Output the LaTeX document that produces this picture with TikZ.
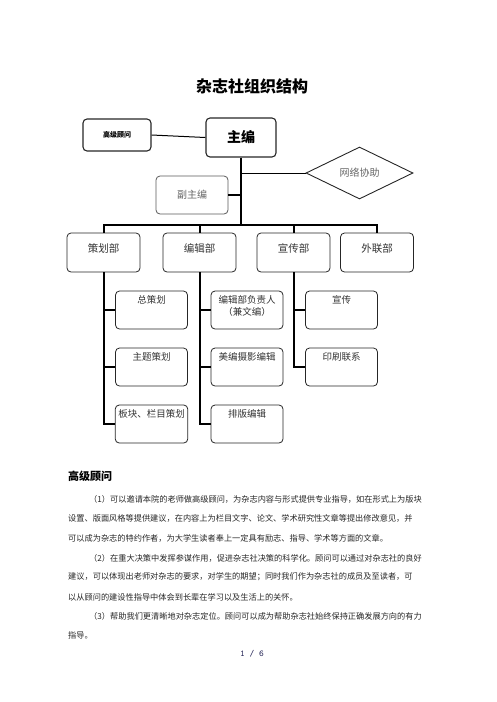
\documentclass[tikz,border=0pt]{standalone}
\usepackage{fontspec}
\setmainfont{Noto Sans CJK SC}
\usetikzlibrary{positioning,shapes.geometric}
\XeTeXlinebreaklocale "zh"
\XeTeXlinebreakskip=0pt plus 4pt minus 0.3pt
\definecolor{pagenum}{RGB}{35,35,85}
\newcommand{\jline}[2]{\makebox[#1][s]{#2}}
\tikzset{
box/.style={draw=black!85, rounded corners=4pt, line width=0.8pt, text=black!80, inner sep=3pt}, % every rounded box
trunk/.style={line width=2pt, line join=miter, black}, % the thick organisation lines
link/.style={line width=1pt, black}, % the thinner lines
para/.style={anchor=west, inner sep=0pt, text=black!85, font=\fontsize{8.2}{10}\selectfont}, % one line of the text below
}
\begin{document}
\begin{tikzpicture}[x=1pt,y=-1pt,node distance=57pt,on grid,
dept/.style={box, minimum width=73pt, font=\fontsize{10.5}{12}\selectfont, text height=16pt, text depth=17pt},
sub/.style={box, minimum width=72pt, font=\fontsize{9.5}{12}\selectfont, text height=9.6pt, text depth=22.4pt}]
\useasboundingbox (0,0) rectangle (496,702);
\node[font=\fontsize{16}{18}\selectfont\bfseries] (title) at (252,86) {杂志社组织结构};

\node[box, line width=1.1pt, minimum width=68pt, minimum height=32pt, text=black, font=\fontsize{7}{8}\selectfont\bfseries] (gw) at (117,135) {高级顾问};
\node[box, line width=1.1pt, minimum width=70pt, minimum height=39pt, text=black, font=\fontsize{14}{16}\selectfont\bfseries] (zb) at (241,137.5) {主编};
\node[draw=black!85, diamond, aspect=2, line width=0.9pt, minimum width=107pt, minimum height=52pt, inner sep=0pt, text=black!60, font=\fontsize{10}{12}\selectfont] (wx) at (359.5,173) {网络协助};
\node[box, draw=black!65, minimum width=72pt, minimum height=38pt, text=black!60, font=\fontsize{10}{12}\selectfont] (fzb) at (192,195) {副主编};
\coordinate (hub) at (241,225);

\node[dept] (ch) at (103.5,252.5) {策划部};
\node[dept] (bj) at (199.5,252.5) {编辑部};
\node[dept] (xc) at (293.5,252.5) {宣传部};
\node[dept] (wl) at (377,252.5) {外联部};

\node[sub] (ch1) at (151.5,310) {总策划};
\node[sub] (ch2) [below =of ch1] {主题策划};
\node[sub] (ch3) [below =of ch2] {板块、栏目策划};
\node[sub, align=center, text height=21.6pt, text depth=10.4pt, font=\fontsize{9.5}{12}\selectfont] (bj1) at (247,310) {编辑部负责人\\（兼文编）};
\node[sub] (bj2) [below =of bj1] {美编摄影编辑};
\node[sub] (bj3) [below =of bj2] {排版编辑};
\node[sub] (xc1) at (341.5,310) {宣传};
\node[sub] (xc2) [below =of xc1] {印刷联系};

% top part
\draw[link] (gw.east) -- (zb.west);
\draw[trunk] (zb.south) -- (hub);
\draw[link] (wx.west) -- (wx.west -| zb.south);
\draw[trunk] (fzb.east) -- (fzb.east -| zb.south);
\draw[trunk] (ch.north) -- (ch.north |- hub) -- (wl.north |- hub) -- (wl.north);
\draw[trunk] (bj.north) -- (bj.north |- hub);
\draw[trunk] (xc.north) -- (xc.north |- hub);

% departments
\draw[trunk] (ch.south) |- (ch3.west);
\draw[trunk] (ch.south |- ch1.west) -- (ch1.west);
\draw[trunk] (ch.south |- ch2.west) -- (ch2.west);
\draw[trunk] (bj.south) |- (bj3.west);
\draw[trunk] (bj.south |- bj1.west) -- (bj1.west);
\draw[trunk] (bj.south |- bj2.west) -- (bj2.west);
\draw[trunk] (xc.south) |- (xc2.west);
\draw[trunk] (xc.south |- xc1.west) -- (xc1.west);

% text below
\node[anchor=west, inner sep=0pt, font=\fontsize{11}{13}\selectfont\bfseries] (head) at (68,476) {高级顾问};
\node[para] (l1) at (89,499) {\jline{348pt}{（1）可以邀请本院的老师做高级顾问，为杂志内容与形式提供专业指导，如在形式上为版块}};
\node[para] (l2) at (68,518) {\jline{369pt}{设置、版面风格等提供建议，在内容上为栏目文字、论文、学术研究性文章等提出修改意见，并}};
\node[para] (l3) at (68,538) {\jline{322pt}{可以成为杂志的特约作者，为大学生读者奉上一定具有励志、指导、学术等方面的文章。}};
\node[para] (l4) at (89,558) {\jline{348pt}{（2）在重大决策中发挥参谋作用，促进杂志社决策的科学化。顾问可以通过对杂志社的良好}};
\node[para] (l5) at (68,577) {\jline{369pt}{建议，可以体现出老师对杂志的要求，对学生的期望；同时我们作为杂志社的成员及至读者，可}};
\node[para] (l6) at (68,597) {\jline{244pt}{以从顾问的建设性指导中体会到长辈在学习以及生活上的关怀。}};
\node[para] (l7) at (89,616) {\jline{348pt}{（3）帮助我们更清晰地对杂志定位。顾问可以成为帮助杂志社始终保持正确发展方向的有力}};
\node[para] (l8) at (68,635) {指导。};
\node[text=pagenum, font=\ttfamily\fontsize{9}{10}\selectfont] (pg) at (252,654) {1 / 6};
\end{tikzpicture}
\end{document}
